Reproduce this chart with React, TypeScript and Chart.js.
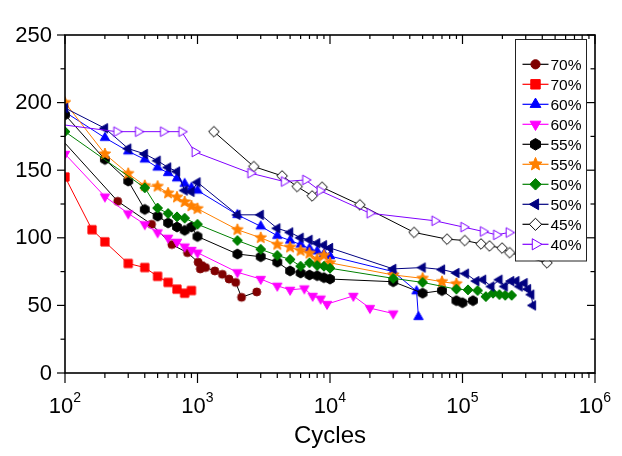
import React, { useEffect, useRef } from 'react';
import { Chart, registerables } from 'chart.js';

Chart.register(...registerables);

// ---------- data (cycles, stress amplitude) ----------
const cycles70a = [100, 250, 450, 640, 840, 1010, 1050, 1080, 1150, 1350, 1540, 1730, 1940, 2150, 2800];
const stress70a = [170, 127, 110, 95, 89, 82, 77, 79.5, 78, 75.5, 73, 69.5, 67, 56, 60];

const cycles70b = [100, 160, 200, 300, 400, 500, 600, 700, 800, 900];
const stress70b = [145, 106, 97, 81, 78, 71.5, 67, 62, 59, 61];

const cycles60a = [100, 200, 300, 400, 500, 600, 700, 800, 900, 1000, 2000, 3000, 4000, 5000, 6000, 7000, 8000, 9000, 10000, 30000, 45000, 46500];
const stress60a = [193, 174, 164, 158, 152, 148, 144, 140, 137, 135, 117, 108.5, 101.5, 98, 95, 92, 90, 88, 86.5, 75, 60.5, 41.5];

const cycles60b = [100, 200, 300, 400, 500, 600, 700, 800, 900, 1000, 2000, 3000, 4000, 5000, 6400, 7400, 8500, 9500, 15000, 20000, 30000];
const stress60b = [162, 130.5, 118, 110, 104, 100, 97, 93.5, 91, 89, 74.5, 69.5, 64.5, 61.5, 62.5, 57, 55, 51, 57, 48, 44];

const cycles55a = [100, 200, 300, 400, 500, 600, 700, 800, 900, 1000, 2000, 3000, 4000, 5000, 6000, 7000, 8000, 9000, 10000, 30000, 50000, 70000, 90000, 100000, 120000];
const stress55a = [191, 158, 142, 121, 116, 111, 108, 105.5, 108, 101, 88, 86, 82, 75.5, 74, 72.5, 72, 70.5, 69.5, 67.5, 59, 61, 53.5, 52, 53.5];

const cycles55b = [100, 200, 300, 400, 500, 600, 700, 800, 900, 1000, 2000, 3000, 4000, 5000, 6000, 7000, 8000, 9000, 10000, 30000, 50000, 70000, 90000];
const stress55b = [200, 162, 147.5, 138.5, 138, 133, 130, 126.5, 123.5, 121.5, 106, 100, 95, 93, 90.5, 88.5, 84, 87, 81.5, 72.5, 70, 67.5, 66];

const cycles50a = [100, 400, 500, 600, 700, 800, 1000, 2000, 3000, 4000, 5000, 6000, 7000, 8000, 9000, 10000, 30000, 50000, 90000, 110000, 130000, 150000, 170000, 190000, 210000, 235000];
const stress50a = [178.5, 137, 122, 118, 115.5, 114.5, 110, 98, 91.5, 87, 84, 79, 81.5, 79.5, 79, 77.5, 70, 67, 62, 61.5, 61, 56.5, 59, 58, 57.5, 57.5];

const cycles50b = [100, 200, 300, 400, 500, 600, 700, 800, 900, 1000, 2000, 3000, 4000, 5000, 6000, 7000, 8000, 9000, 10000, 30000, 50000, 70000, 90000, 106000, 127000, 143000, 165000, 190000, 208000, 233000, 255000, 270000, 294000, 312000, 330000, 340000];
const stress50b = [196, 181, 166, 162, 157, 152, 149, 135, 134, 141, 117, 117, 107, 104, 100, 98.5, 96, 94.5, 92.5, 77, 78, 76.5, 74, 73.5, 68, 69, 64, 69, 64, 68, 68, 64, 66.5, 62, 58, 50];

const cycles45 = [1330, 2660, 4350, 5650, 7330, 8720, 16800, 43100, 76400, 104000, 138000, 160000, 199000, 227000, 434000];
const stress45 = [178.5, 152.7, 145.8, 137.9, 131, 137.4, 124.4, 104, 99, 98, 95.5, 94, 92.4, 89, 81.5];

const cycles40 = [100, 245, 357, 551, 759, 955, 2515, 4510, 6530, 8380, 19960, 61700, 102000, 143000, 180000, 224000];
const stress40 = [183.4, 178.5, 178.5, 178.5, 178.5, 163.5, 147.8, 141.6, 142.8, 134.9, 118.2, 112.6, 107.9, 104.7, 102.2, 103.9];

const legendLabels = ['70%', '70%', '60%', '60%', '55%', '55%', '50%', '50%', '45%', '40%'];
const yTicks = [0, 50, 100, 150, 200, 250];
const xDecades = [2, 3, 4, 5, 6];
const xTitle = 'Cycles';

// ---------- styles ----------
type Kind = 'circle' | 'square' | 'triUp' | 'triDown' | 'triLeft' | 'triRight' | 'hexagon' | 'star' | 'diamond';

interface Style {
  line: string;
  fill: string;
  stroke: string;
  kind: Kind;
  r: number;
  hideFirst?: boolean;
}

const styles: Style[] = [
  { line: '#000000', fill: '#800000', stroke: '#800000', kind: 'circle', r: 4, hideFirst: true },
  { line: '#FF0000', fill: '#FF0000', stroke: '#FF0000', kind: 'square', r: 4.1 },
  { line: '#0000FF', fill: '#0000FF', stroke: '#0000FF', kind: 'triUp', r: 5.4 },
  { line: '#FF00FF', fill: '#FF00FF', stroke: '#FF00FF', kind: 'triDown', r: 5.4 },
  { line: '#000000', fill: '#000000', stroke: '#000000', kind: 'hexagon', r: 5 },
  { line: '#FF8000', fill: '#FF8000', stroke: '#FF8000', kind: 'star', r: 6 },
  { line: '#008000', fill: '#008000', stroke: '#008000', kind: 'diamond', r: 5 },
  { line: '#000080', fill: '#000080', stroke: '#000080', kind: 'triLeft', r: 5.4 },
  { line: '#000000', fill: '#FFFFFF', stroke: '#000000', kind: 'diamond', r: 5.3 },
  { line: '#8000FF', fill: '#FFFFFF', stroke: '#8000FF', kind: 'triRight', r: 5.6, hideFirst: true },
];

const seriesCycles = [cycles70a, cycles70b, cycles60a, cycles60b, cycles55a, cycles55b, cycles50a, cycles50b, cycles45, cycles40];
const seriesStress = [stress70a, stress70b, stress60a, stress60b, stress55a, stress55b, stress50a, stress50b, stress45, stress40];

const FONT = '"Liberation Sans", Arial, Helvetica, sans-serif';

function polygon(ctx: CanvasRenderingContext2D, x: number, y: number, pts: number[][]) {
  pts.forEach((p, i) => (i === 0 ? ctx.moveTo(x + p[0], y + p[1]) : ctx.lineTo(x + p[0], y + p[1])));
}

function angled(r: number, degs: number[]) {
  return degs.map((d) => [r * Math.cos((d * Math.PI) / 180), r * Math.sin((d * Math.PI) / 180)]);
}

function tracePath(ctx: CanvasRenderingContext2D, kind: Kind, x: number, y: number, r: number) {
  ctx.beginPath();
  switch (kind) {
    case 'circle':
      ctx.arc(x, y, r, 0, Math.PI * 2);
      break;
    case 'square':
      ctx.rect(x - r, y - r, 2 * r, 2 * r);
      break;
    case 'diamond':
      polygon(ctx, x, y, [[0, -r], [r, 0], [0, r], [-r, 0]]);
      break;
    case 'triUp':
      polygon(ctx, x, y, angled(r, [-90, 30, 150]));
      break;
    case 'triDown':
      polygon(ctx, x, y, angled(r, [90, 210, 330]));
      break;
    case 'triLeft':
      polygon(ctx, x, y, angled(r, [180, 300, 60]));
      break;
    case 'triRight':
      polygon(ctx, x, y, angled(r, [0, 120, 240]));
      break;
    case 'hexagon':
      polygon(ctx, x, y, angled(r, [-90, -30, 30, 90, 150, 210]));
      break;
    case 'star': {
      const pts: number[][] = [];
      for (let k = 0; k < 10; k++) {
        const rr = k % 2 === 0 ? r : r * 0.45;
        const a = ((-90 + k * 36) * Math.PI) / 180;
        pts.push([rr * Math.cos(a), rr * Math.sin(a)]);
      }
      polygon(ctx, x, y, pts);
      break;
    }
  }
  ctx.closePath();
}

function drawMarker(ctx: CanvasRenderingContext2D, s: Style, x: number, y: number, r: number) {
  tracePath(ctx, s.kind, x, y, r);
  ctx.fillStyle = s.fill;
  ctx.fill();
  ctx.lineWidth = 1;
  ctx.strokeStyle = s.stroke;
  ctx.stroke();
}

function makeMarkerCanvas(s: Style): HTMLCanvasElement {
  let size = Math.ceil(2 * s.r + 4);
  if (size % 2 === 1) size += 1;
  const c = document.createElement('canvas');
  c.width = size;
  c.height = size;
  const cx = c.getContext('2d') as CanvasRenderingContext2D;
  drawMarker(cx, s, size / 2, size / 2, s.r);
  return c;
}

const decorPlugin = {
  id: 'decor',
  afterDatasetsDraw(chart: any) {
    const { ctx, chartArea } = chart;
    const { left, right, top, bottom } = chartArea;
    const xs = chart.scales.x;
    const ys = chart.scales.y;
    ctx.save();

    // frame
    ctx.strokeStyle = '#000';
    ctx.lineWidth = 1.6;
    ctx.strokeRect(left, top, right - left, bottom - top);

    ctx.lineWidth = 1.2;
    const seg = (x1: number, y1: number, x2: number, y2: number) => {
      ctx.beginPath();
      ctx.moveTo(x1, y1);
      ctx.lineTo(x2, y2);
      ctx.stroke();
    };
    const MAJ = 8;
    const MIN = 4.5;

    // y ticks (left outward, right inward)
    for (let v = 0; v <= 250; v += 25) {
      const py = ys.getPixelForValue(v);
      const len = v % 50 === 0 ? MAJ : MIN;
      seg(left - len, py, left, py);
      seg(right - len, py, right, py);
    }
    // x ticks (bottom outward, top inward)
    for (let d = 2; d <= 6; d++) {
      for (let m = 1; m <= 9; m++) {
        const v = m * Math.pow(10, d);
        if (v > 1e6) break;
        const px = xs.getPixelForValue(v);
        const len = m === 1 ? MAJ + 2 : MIN + 0.5;
        seg(px, bottom, px, bottom + len);
        seg(px, top, px, top + len - 1);
      }
    }

    // y labels
    ctx.fillStyle = '#000';
    ctx.font = `22px ${FONT}`;
    ctx.textAlign = 'right';
    ctx.textBaseline = 'alphabetic';
    yTicks.forEach((v) => {
      const py = ys.getPixelForValue(v);
      ctx.fillText(String(v), left - 13, py + 6.5);
    });

    // x labels 10^k
    ctx.textAlign = 'left';
    xDecades.forEach((k) => {
      const px = xs.getPixelForValue(Math.pow(10, k));
      ctx.font = `22px ${FONT}`;
      const wBase = ctx.measureText('10').width;
      ctx.font = `14px ${FONT}`;
      const wSup = ctx.measureText(String(k)).width;
      const x0 = px - (wBase + wSup) / 2;
      ctx.font = `22px ${FONT}`;
      ctx.fillText('10', x0, 413);
      ctx.font = `14px ${FONT}`;
      ctx.fillText(String(k), x0 + wBase, 402);
    });

    // x title
    ctx.font = `24px ${FONT}`;
    ctx.textAlign = 'center';
    ctx.fillText(xTitle, (left + right) / 2, 443);

    // legend
    const lx0 = 515, ly0 = 39, lx1 = 586, ly1 = 260.5;
    ctx.fillStyle = '#fff';
    ctx.fillRect(lx0, ly0, lx1 - lx0, ly1 - ly0);
    ctx.strokeStyle = '#222';
    ctx.lineWidth = 1;
    ctx.strokeRect(lx0 + 0.5, ly0 + 0.5, lx1 - lx0, ly1 - ly0);
    ctx.font = `15.5px ${FONT}`;
    ctx.textAlign = 'left';
    styles.forEach((s, i) => {
      const cy = 64.3 + i * 20;
      ctx.strokeStyle = s.line;
      ctx.lineWidth = 1.2;
      seg(522.5, cy, 548.5, cy);
      drawMarker(ctx, s, 535.5, cy, s.r * 1.15);
      ctx.fillStyle = '#000';
      ctx.fillText(legendLabels[i], 550.5, cy + 5.5);
    });

    ctx.restore();
  },
};

export default function App() {
  const ref = useRef<HTMLCanvasElement | null>(null);

  useEffect(() => {
    if (!ref.current) return;
    const datasets = styles.map((s, i) => {
      const cyc = seriesCycles[i];
      const st = seriesStress[i];
      return {
        label: legendLabels[i],
        data: cyc.map((c, j) => ({ x: c, y: st[j] })),
        borderColor: s.line,
        backgroundColor: s.fill,
        borderWidth: 1,
        pointStyle: makeMarkerCanvas(s),
        pointRadius: cyc.map((_, j) => (s.hideFirst && j === 0 ? 0 : s.r)),
        pointBorderWidth: 0,
        tension: 0,
        fill: false,
        clip: 0,
        order: -i,
      };
    });
    const chart = new Chart(ref.current, {
      type: 'line',
      data: { datasets } as any,
      options: {
        animation: false,
        responsive: false,
        devicePixelRatio: 1,
        layout: { padding: { left: 65, right: 27, top: 35, bottom: 83 } },
        plugins: { legend: { display: false }, tooltip: { enabled: false } },
        scales: {
          x: { type: 'logarithmic', min: 100, max: 1e6, display: false },
          y: { type: 'linear', min: 0, max: 250, display: false },
        },
      } as any,
      plugins: [decorPlugin],
    });
    return () => chart.destroy();
  }, []);

  return (
    <canvas
      ref={ref}
      width={622}
      height={456}
      style={{ position: 'absolute', left: 0, top: 0, width: 622, height: 456 }}
    />
  );
}
